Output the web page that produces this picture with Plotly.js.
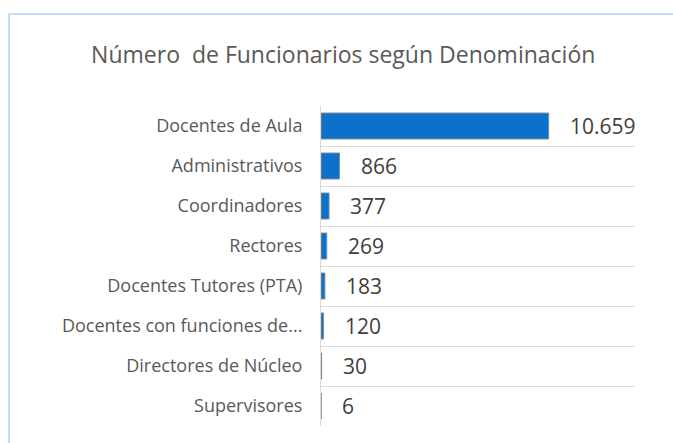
<!DOCTYPE html>
<html>
<head>
<meta charset="utf-8">
<script src="https://cdn.plot.ly/plotly-3.0.1.min.js"></script>
<style>
  html, body { margin: 0; padding: 0; background: #ffffff; }
  #wrap { position: relative; width: 673px; height: 443px; overflow: hidden; }
  #frame { position: absolute; left: 8px; top: 13px; width: 700px; height: 500px;
           border-top: 2px solid #C5DDF2; border-left: 2px solid #C5DDF2; pointer-events: none; }
  #chart { position: absolute; left: 0; top: 0; width: 673px; height: 443px; }
</style>
</head>
<body>
<div id="wrap">
  <div id="chart"></div>
  <div id="frame"></div>
</div>
<script>
const categories = [
  "Docentes de Aula",
  "Administrativos",
  "Coordinadores",
  "Rectores",
  "Docentes Tutores (PTA)",
  "Docentes con funciones de...",
  "Directores de Núcleo",
  "Supervisores"
];
const values = [10659, 866, 377, 269, 183, 120, 30, 6];
const valueLabels = ["10.659", "866", "377", "269", "183", "120", "30", "6"];
const chartTitle = "Número  de Funcionarios según Denominación";

const trace = {
  type: "bar",
  orientation: "h",
  x: values,
  y: categories,
  width: 0.65,
  marker: { color: "#0B71CA", line: { color: "#8C8C8C", width: 1 } },
  hoverinfo: "x+y"
};

const annotations = values.map((v, i) => ({
  x: v, y: categories[i], xref: "x", yref: "y",
  text: valueLabels[i], showarrow: false,
  xanchor: "left", yanchor: "middle", xshift: 19,
  font: { family: "Open Sans", size: 21, color: "#404040" }
}));

const layout = {
  width: 673, height: 443,
  margin: { l: 321, r: 38, t: 106, b: 17 },
  paper_bgcolor: "#ffffff", plot_bgcolor: "#ffffff",
  font: { family: "Open Sans", color: "#595959" },
  title: {
    text: chartTitle,
    x: 0.51, xanchor: "center", y: 0.876, yanchor: "middle",
    font: { family: "Open Sans", size: 23, color: "#595959" }
  },
  xaxis: {
    range: [0, 14700], showgrid: false, zeroline: false,
    showticklabels: false, showline: false, fixedrange: true
  },
  yaxis: {
    type: "category", autorange: "reversed",
    tickson: "boundaries", showgrid: true, gridcolor: "#D9D9D9", gridwidth: 1,
    showline: true, linecolor: "#D9D9D9", linewidth: 1,
    ticks: "", ticklabelstandoff: 14,
    tickfont: { family: "Open Sans", size: 18, color: "#595959" },
    fixedrange: true
  },
  annotations: annotations,
  showlegend: false,
  bargap: 0.35
};

Plotly.newPlot("chart", [trace], layout, { displayModeBar: false, staticPlot: true });
</script>
</body>
</html>
